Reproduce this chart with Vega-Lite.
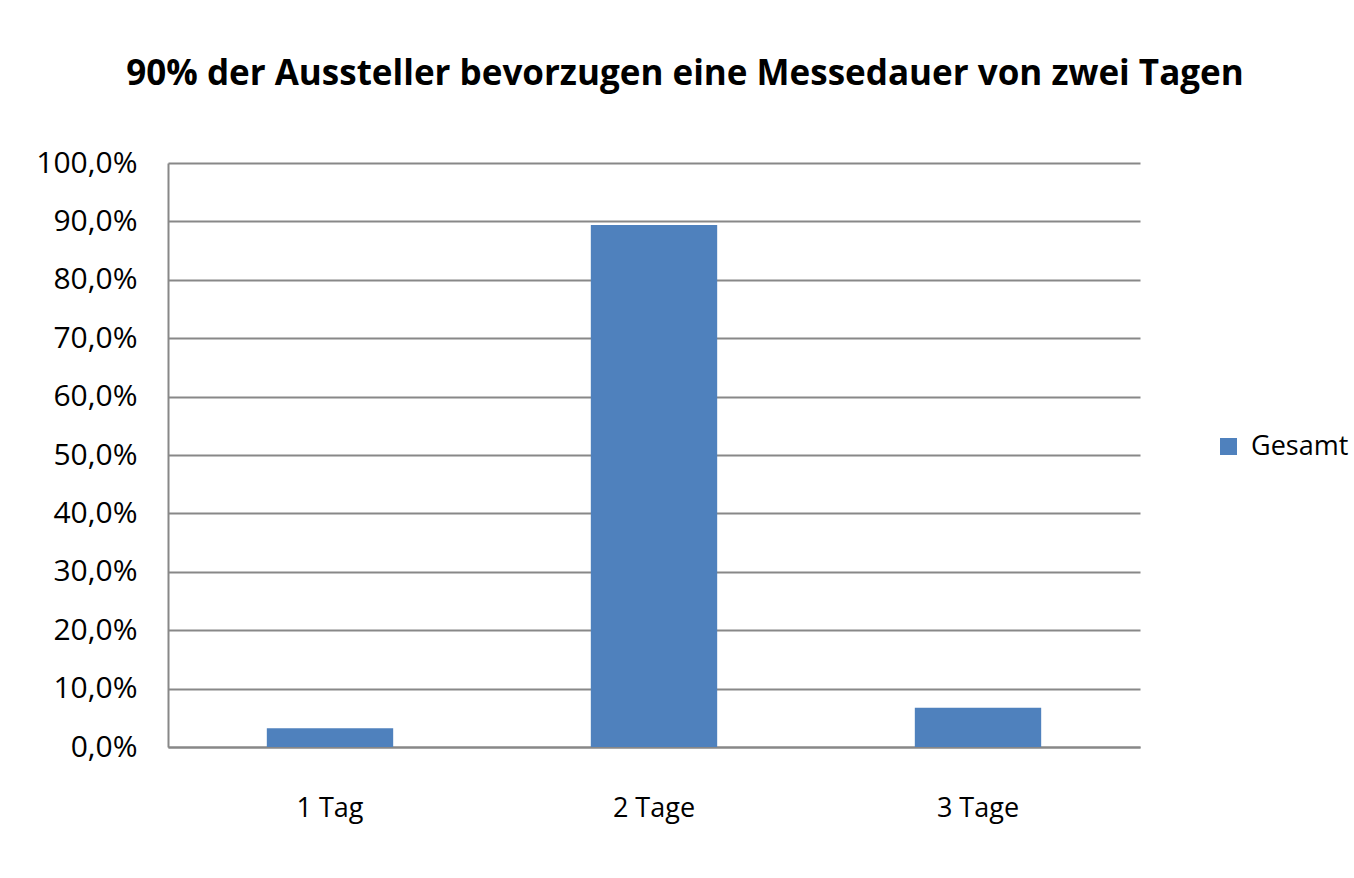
{
  "$schema": "https://vega.github.io/schema/vega-lite/v6.json",
  "autosize": {"type": "none"},
  "padding": {"left": 168, "top": 163, "right": 214, "bottom": 131},
  "width": 972,
  "height": 584,
  "background": "white",
  "title": {
    "text": "90% der Aussteller bevorzugen eine Messedauer von zwei Tagen",
    "font": "Open Sans",
    "fontSize": 35,
    "fontWeight": "bold",
    "color": "#000000",
    "anchor": "middle",
    "dx": 31,
    "offset": 56
  },
  "data": {
    "values": [
      {"kategorie": "1 Tag", "serie": "Gesamt", "anteil": 0.032},
      {"kategorie": "2 Tage", "serie": "Gesamt", "anteil": 0.894},
      {"kategorie": "3 Tage", "serie": "Gesamt", "anteil": 0.067}
    ]
  },
  "mark": {"type": "bar"},
  "encoding": {
    "x": {
      "field": "kategorie",
      "type": "nominal",
      "sort": null,
      "scale": {"paddingInner": 0.61, "paddingOuter": 0.305},
      "axis": {
        "title": null,
        "labelAngle": 0,
        "labelFont": "Open Sans",
        "labelFontSize": 27,
        "labelColor": "#000000",
        "labelPadding": 48,
        "ticks": false,
        "domainColor": "#888888",
        "domainWidth": 2
      }
    },
    "y": {
      "field": "anteil",
      "type": "quantitative",
      "scale": {"domain": [0, 1]},
      "axis": {
        "title": null,
        "values": [0, 0.1, 0.2, 0.3, 0.4, 0.5, 0.6, 0.7, 0.8, 0.9, 1.0],
        "labelExpr": "replace(format(datum.value, '.1%'), '.', ',')",
        "labelFont": "Open Sans",
        "labelFontSize": 30,
        "labelColor": "#000000",
        "labelPadding": 31,
        "ticks": false,
        "domainColor": "#888888",
        "domainWidth": 2,
        "gridColor": "#888888",
        "gridWidth": 2
      }
    },
    "color": {
      "field": "serie",
      "type": "nominal",
      "scale": {"range": ["#4F81BD"]},
      "legend": {
        "title": null,
        "orient": "none",
        "legendX": 1047,
        "legendY": 270,
        "symbolType": "square",
        "symbolSize": 289,
        "symbolStrokeWidth": 0,
        "labelFont": "Open Sans",
        "labelFontSize": 27,
        "labelColor": "#000000",
        "labelOffset": 9
      }
    }
  },
  "config": {
    "view": {"stroke": null}
  }
}
